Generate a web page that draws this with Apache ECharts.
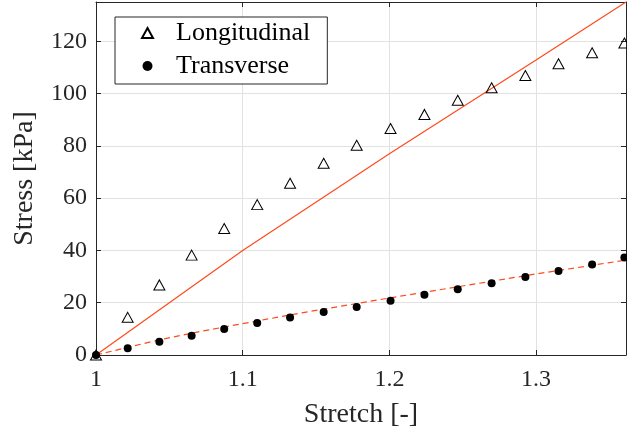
<!DOCTYPE html>
<html>
<head>
<meta charset="utf-8">
<script src="https://cdn.jsdelivr.net/npm/echarts@6/dist/echarts.min.js"></script>
<style>
  html, body { margin: 0; padding: 0; background: #fff; }
  #chart { width: 627px; height: 432px; }
</style>
</head>
<body>
<div id="chart"></div>
<script>
// measured points
const stretch = [1, 1.0216, 1.0432, 1.0652, 1.0874, 1.1099, 1.1323, 1.1552, 1.1777,
  1.2008, 1.2239, 1.2466, 1.2697, 1.2927, 1.3153, 1.3382, 1.3602];
const longitudinal = [0, 14.4, 26.8, 38.2, 48.4, 57.5, 65.7, 73.3, 80.2,
  86.6, 92.0, 97.4, 102.2, 106.9, 111.4, 115.6, 119.3];
const transverse = [0, 2.55, 5.1, 7.4, 9.9, 12.2, 14.3, 16.4, 18.4,
  20.7, 23.0, 25.1, 27.4, 29.8, 32.1, 34.6, 37.3];

// model curves
const fitLongX = [1, 1.05, 1.1, 1.2, 1.3, 1.3613];
const fitLongY = [0, 20, 40, 77, 112.8, 135];
const fitTransX = [1, 1.043, 1.071, 1.1, 1.139, 1.2, 1.3, 1.3613];
const fitTransY = [0, 5.8, 9.0, 12.0, 16.0, 21.8, 31.0, 36.3];

const xTicks = ['1', '1.1', '1.2', '1.3'];
const yTicks = ['0', '20', '40', '60', '80', '100', '120'];

const xMin = 1, xMax = 1.3613;
const yMin = 0, yMax = 135;

const font = '"Liberation Serif", "DejaVu Serif", serif';
const axisColor = '#262626';
const fitColor = '#ff4a1c';

function zip(xs, ys) {
  return xs.map(function (x, i) { return [x, ys[i]]; });
}

function xLabel(v) {
  const s = String(+v.toFixed(4));
  return xTicks.indexOf(s) >= 0 ? s : '';
}
function yLabel(v) {
  const s = String(+v.toFixed(4));
  return yTicks.indexOf(s) >= 0 ? s : '';
}

const myChart = echarts.init(document.getElementById('chart'), null, { renderer: 'canvas' });

const boxAxis = {
  axisLine: { show: true, onZero: false, lineStyle: { color: axisColor, width: 1 } },
  axisTick: { show: true, inside: true, length: 5, lineStyle: { color: axisColor } },
  axisLabel: { show: false },
  splitLine: { show: false }
};

const option = {
  animation: false,
  textStyle: { fontFamily: font },
  grid: { left: 96, right: 1, top: 2, bottom: 77, containLabel: false, outerBoundsMode: 'none' },
  legend: {
    left: 115,
    top: 17,
    orient: 'vertical',
    data: ['Longitudinal', 'Transverse'],
    backgroundColor: '#fff',
    borderColor: axisColor,
    borderWidth: 1,
    borderRadius: 0,
    padding: [3, 17, 5, 26],
    itemGap: 7,
    itemWidth: 11,
    itemHeight: 10,
    textStyle: { fontFamily: font, fontSize: 26, color: '#000', padding: [0, 0, 0, 18] }
  },
  xAxis: [
    {
      type: 'value',
      min: xMin,
      max: xMax,
      interval: 0.1,
      name: 'Stretch [-]',
      nameLocation: 'middle',
      nameGap: 46,
      nameTextStyle: { fontFamily: font, fontSize: 28, color: axisColor },
      axisLine: { onZero: false, lineStyle: { color: axisColor, width: 1 } },
      axisTick: { inside: true, length: 5, lineStyle: { color: axisColor } },
      axisLabel: { margin: 13, fontFamily: font, fontSize: 24, color: axisColor, formatter: xLabel },
      splitLine: { show: true, lineStyle: { color: '#e2e2e2', width: 1 } }
    },
    Object.assign({ type: 'value', position: 'top', min: xMin, max: xMax, interval: 0.1 }, boxAxis)
  ],
  yAxis: [
    {
      type: 'value',
      min: yMin,
      max: yMax,
      interval: 20,
      name: 'Stress [kPa]',
      nameLocation: 'middle',
      nameGap: 57,
      nameTextStyle: { fontFamily: font, fontSize: 28, color: axisColor },
      axisLine: { show: true, onZero: false, lineStyle: { color: axisColor, width: 1 } },
      axisTick: { show: true, inside: true, length: 5, lineStyle: { color: axisColor } },
      axisLabel: { margin: 9, fontFamily: font, fontSize: 24, color: axisColor, formatter: yLabel },
      splitLine: { show: true, lineStyle: { color: '#e2e2e2', width: 1 } }
    },
    Object.assign({ type: 'value', position: 'right', min: yMin, max: yMax, interval: 20 }, boxAxis)
  ],
  series: [
    {
      name: 'Longitudinal model',
      type: 'line',
      data: zip(fitLongX, fitLongY),
      showSymbol: false,
      lineStyle: { color: fitColor, width: 1.2 },
      z: 2
    },
    {
      name: 'Transverse model',
      type: 'line',
      data: zip(fitTransX, fitTransY),
      showSymbol: false,
      lineStyle: { color: fitColor, width: 1.2, type: [6, 4] },
      z: 2
    },
    {
      name: 'Longitudinal',
      type: 'scatter',
      symbol: 'triangle',
      symbolSize: [11, 10],
      data: zip(stretch, longitudinal),
      itemStyle: { color: 'rgba(0,0,0,0)', borderColor: '#000', borderWidth: 1, opacity: 1 },
      z: 3
    },
    {
      name: 'Transverse',
      type: 'scatter',
      symbol: 'circle',
      symbolSize: 8,
      data: zip(stretch, transverse),
      itemStyle: { color: '#000', opacity: 1 },
      z: 4
    }
  ]
};

myChart.setOption(option);
</script>
</body>
</html>
